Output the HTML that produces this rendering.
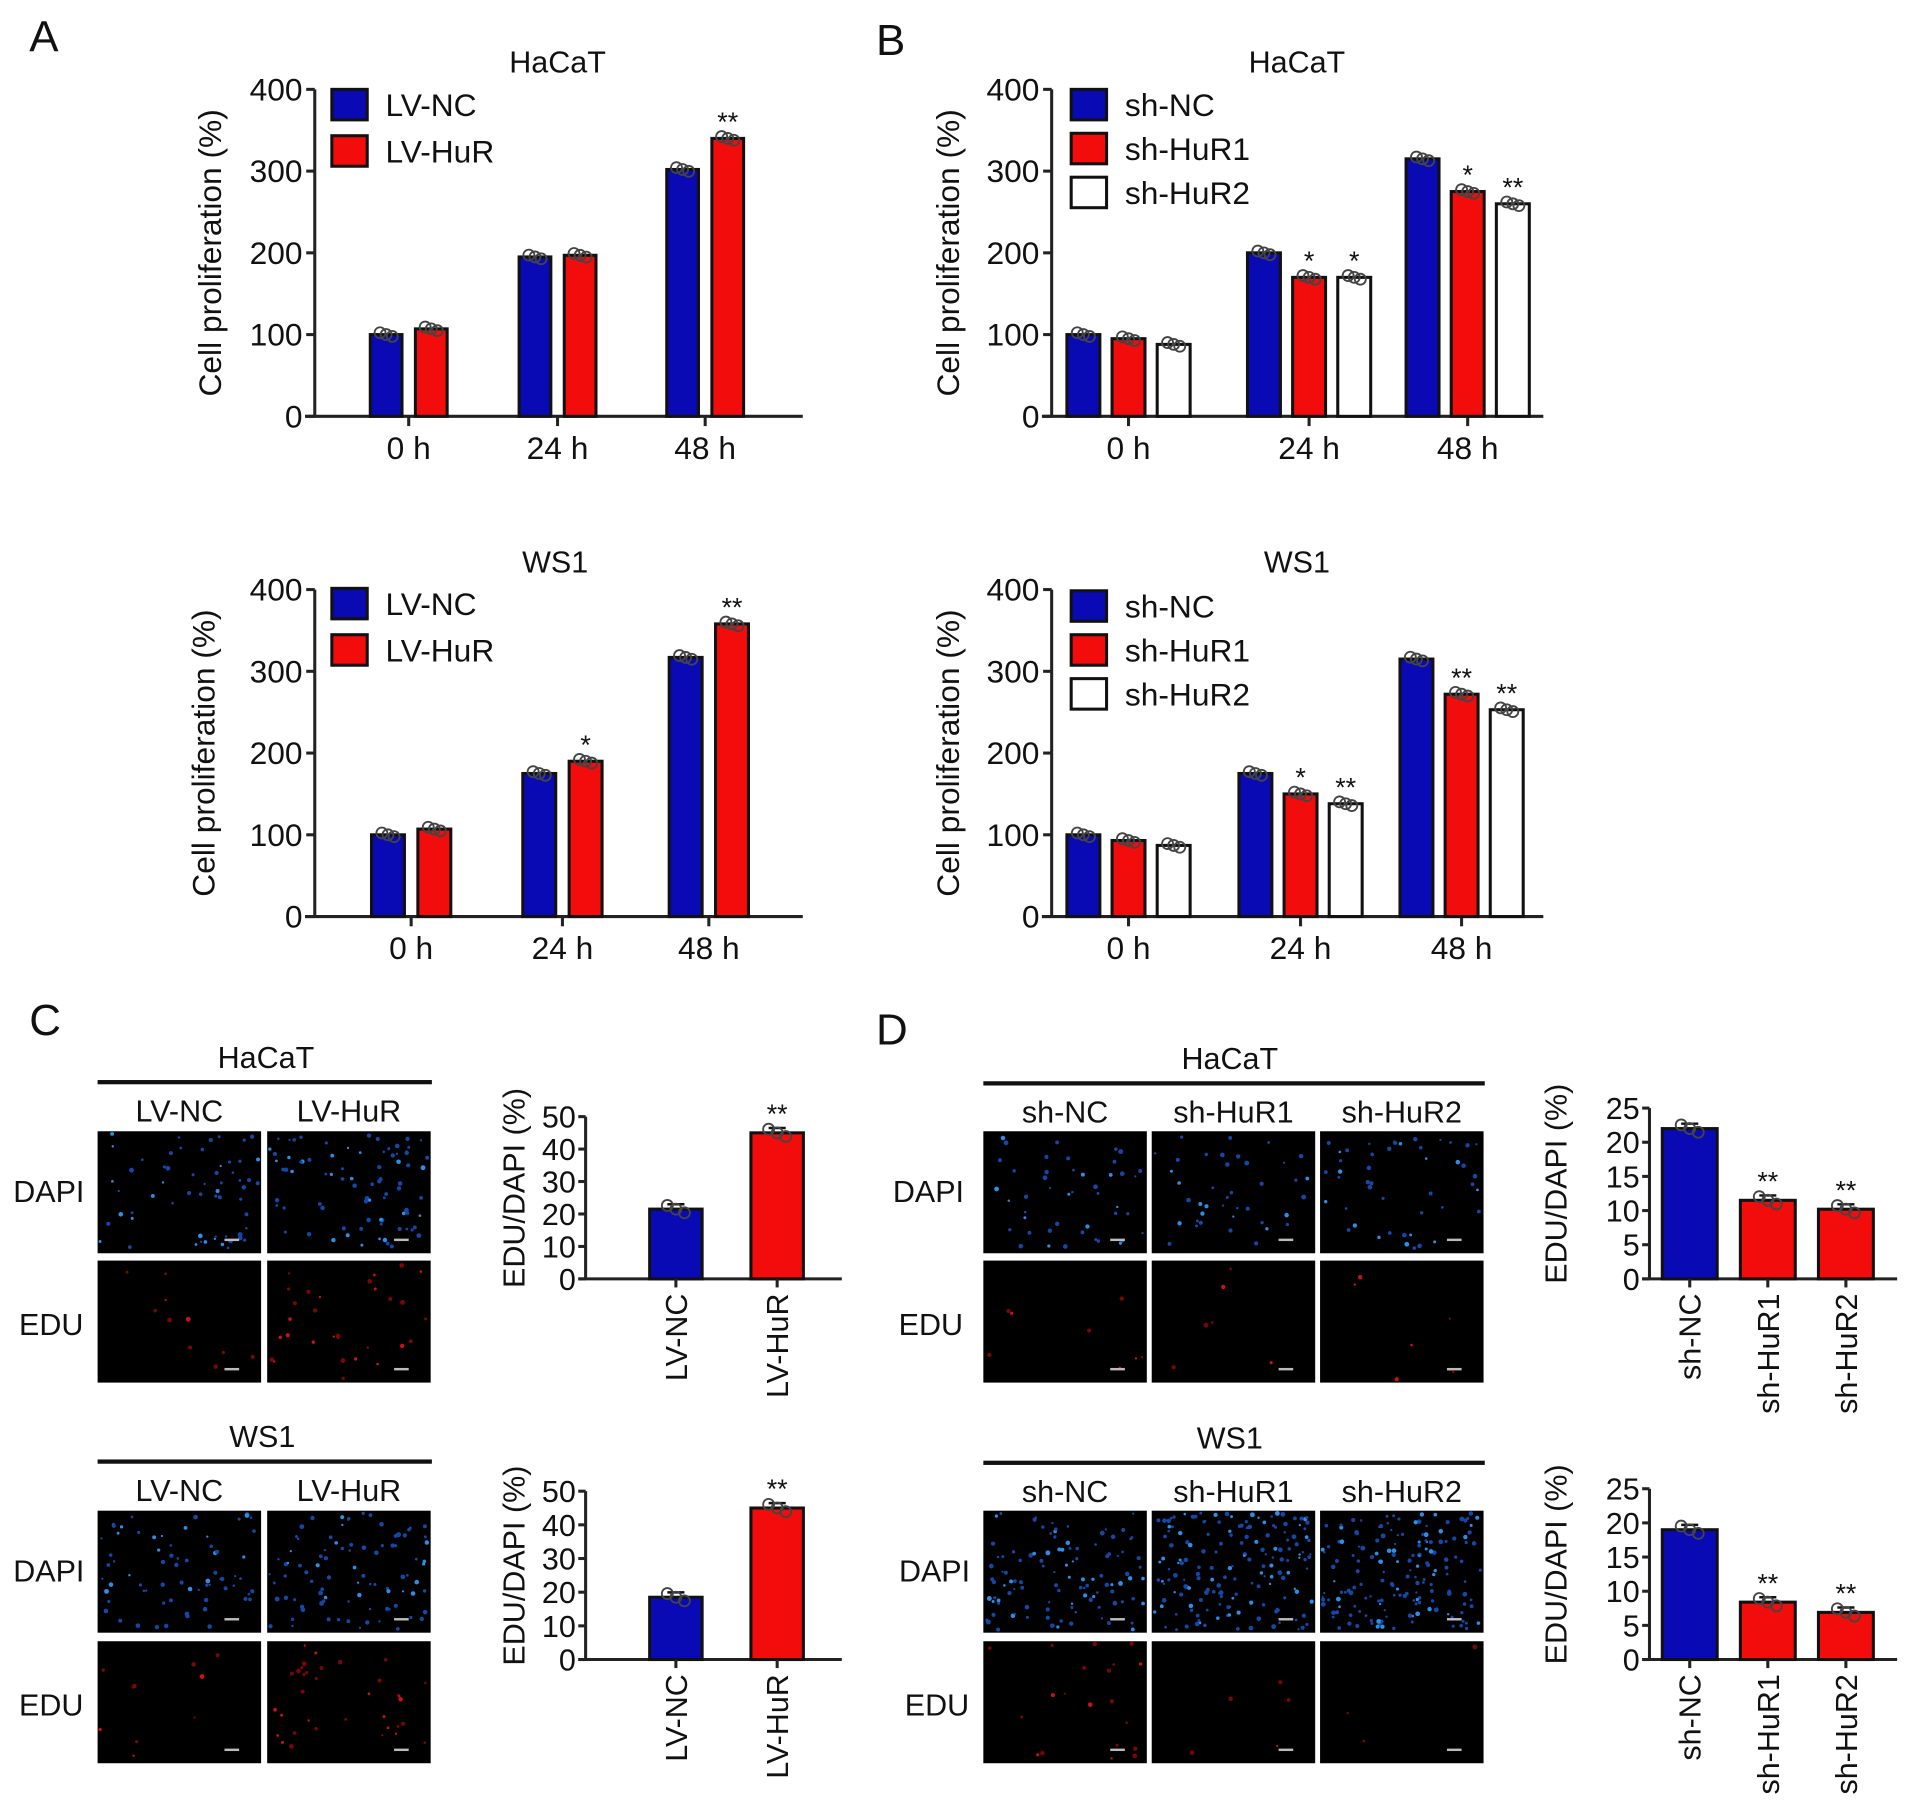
<!DOCTYPE html>
<html><head><meta charset="utf-8"><style>
html,body{margin:0;padding:0;background:#fff}
svg{display:block}
text{font-family:"Liberation Sans",Arial,sans-serif;fill:#111}
</style></head><body>
<svg id="fig" xmlns="http://www.w3.org/2000/svg" width="1913" height="1816" viewBox="0 0 1568 1488">
<g id="root"></g>
</svg>
<script>
// ---- data ----
const groupsTime = ["0 h","24 h","48 h"];
const yTicks400 = [0,100,200,300,400];
const aHacatNC = [100,195,302];
const aHacatHuR = [107,197,340];
const aHacatStars = [["",""],["",""],["","**"]];
const aWs1NC = [100,175,317];
const aWs1HuR = [107,190,358];
const aWs1Stars = [["",""],["","*"],["","**"]];
const bHacatNC = [100,200,315];
const bHacatR1 = [95,170,275];
const bHacatR2 = [88,170,260];
const bHacatStars = [["","",""],["","*","*"],["","*","**"]];
const bWs1NC = [100,175,315];
const bWs1R1 = [93,150,272];
const bWs1R2 = [87,138,253];
const bWs1Stars = [["","",""],["","*","**"],["","**","**"]];
const cCats = ["LV-NC","LV-HuR"];
const cTicks = [0,10,20,30,40,50];
const cHacatVals = [21.5,45];
const cWs1Vals = [18.5,45];
const cStars = ["","**"];
const dCats = ["sh-NC","sh-HuR1","sh-HuR2"];
const dTicks = [0,5,10,15,20,25];
const dHacatVals = [22,11.5,10.2];
const dWs1Vals = [19,8.4,6.9];
const dStars = ["","**","**"];

const NS="http://www.w3.org/2000/svg";
const root=document.getElementById('root');
function el(tag,attrs,parent,txt){const e=document.createElementNS(NS,tag);for(const k in attrs)e.setAttribute(k,attrs[k]);if(txt!==undefined)e.textContent=txt;(parent||root).appendChild(e);return e;}
const COLORS=["#0a0ab4","#f20c0c","#ffffff"];

function groupedChart(o){
  const g=el('g',{});
  
  
  const y=v=>o.y0-(v/400)*(o.y0-o.y400);
  const ax=el('g',{},g);
  
  
  el('line',{x1:o.ax,y1:o.y400,x2:o.ax,y2:o.y0,stroke:'#222','stroke-width':2.5},ax);
  yTicks400.forEach(t=>{
    el('line',{x1:o.ax-7,y1:y(t),x2:o.ax,y2:y(t),stroke:'#222','stroke-width':2.5},ax);
    const tl=el('text',{x:o.ax-10,y:y(t)+9,'text-anchor':'end','font-size':26},ax,t);
    
    
  });
  el('line',{x1:o.ax-8,y1:o.y0,x2:o.axEnd,y2:o.y0,stroke:'#222','stroke-width':2.5},g);
  const yl=el('text',{transform:`translate(${o.ylx},${(o.y0+o.y400)/2}) rotate(-90)`,'text-anchor':'middle','font-size':26},g,'Cell proliferation (%)');
  
  
  const ti=el('text',{x:o.titleX,y:o.titleY,'text-anchor':'middle','font-size':25},g,o.title);
  
  
  const n=o.series.length;
  groupsTime.forEach((c,i)=>{
    const cx=o.centers[i];
    el('line',{x1:cx,y1:o.y0,x2:cx,y2:o.y0+8,stroke:'#222','stroke-width':2.5},g);
    const xl=el('text',{x:cx,y:o.y0+35,'text-anchor':'middle','font-size':26},g,c);
    
    
    o.series.forEach((s,j)=>{
      const x=cx-(n*o.bw+(n-1)*o.gap)/2+j*(o.bw+o.gap);
      const v=s[i];
      const r=el('rect',{x:x,y:y(v),width:o.bw,height:o.y0-y(v),fill:COLORS[j],stroke:'#111','stroke-width':2.5},g);
      
      
      [-5,0,5].forEach((dx,k)=>el('circle',{cx:x+o.bw/2+dx,cy:y(v)+(k-1)*1.5,r:4.5,fill:'none',stroke:'#444','stroke-width':1.5},g));
      const st=o.stars[i][j];
      if(st){const sl=el('text',{x:x+o.bw/2,y:y(v)-6,'text-anchor':'middle','font-size':22},g,st);
        
        }
    });
  });
  o.legend.forEach((name,j)=>{
    const ly=o.legY+j*o.legDy;
    const lg=el('g',{},g);
    
    
    el('rect',{x:o.legX,y:ly,width:29,height:25,fill:COLORS[j],stroke:'#111','stroke-width':2.5},lg);
    el('text',{x:o.legX+44,y:ly+22,'font-size':26},lg,name);
  });
}

groupedChart({name:'chart-a-hacat',ax:258,axEnd:658,y0:341,y400:73,ylx:181,title:'HaCaT',titleX:457,titleY:59,
  centers:[335,457,578],bw:26,gap:11,series:[aHacatNC,aHacatHuR],stars:aHacatStars,legend:['LV-NC','LV-HuR'],legX:272,legY:73,legDy:38});
groupedChart({name:'chart-a-ws1',ax:258,axEnd:658,y0:751,y400:483,ylx:176,title:'WS1',titleX:455,titleY:469,
  centers:[337,461,581],bw:27,gap:11,series:[aWs1NC,aWs1HuR],stars:aWs1Stars,legend:['LV-NC','LV-HuR'],legX:272,legY:482,legDy:38});
groupedChart({name:'chart-b-hacat',ax:862,axEnd:1265,y0:341,y400:73,ylx:786,title:'HaCaT',titleX:1063,titleY:59,
  centers:[925,1073,1203],bw:27,gap:10,series:[bHacatNC,bHacatR1,bHacatR2],stars:bHacatStars,legend:['sh-NC','sh-HuR1','sh-HuR2'],legX:878,legY:73,legDy:36});
groupedChart({name:'chart-b-ws1',ax:862,axEnd:1265,y0:751,y400:483,ylx:786,title:'WS1',titleX:1063,titleY:469,
  centers:[925,1066,1198],bw:27,gap:10,series:[bWs1NC,bWs1R1,bWs1R2],stars:bWs1Stars,legend:['sh-NC','sh-HuR1','sh-HuR2'],legX:878,legY:484,legDy:36});

function edu(o){
  const g=el('g',{});
  
  
  const max=o.ticks[o.ticks.length-1];
  const y=v=>o.y0-(v/max)*(o.y0-o.ytop);
  el('line',{x1:o.ax,y1:o.ytop,x2:o.ax,y2:o.y0,stroke:'#222','stroke-width':2.5},g);
  el('line',{x1:o.ax-6,y1:o.y0,x2:o.axEnd,y2:o.y0,stroke:'#222','stroke-width':2.5},g);
  o.ticks.forEach(t=>{
    el('line',{x1:o.ax-6,y1:y(t),x2:o.ax,y2:y(t),stroke:'#222','stroke-width':2.5},g);
    const tl=el('text',{x:o.ax-8,y:y(t)+9,'text-anchor':'end','font-size':25},g,t);
    
    
  });
  const yl=el('text',{transform:`translate(${o.ylx},${(o.y0+o.ytop)/2-8}) rotate(-90)`,'text-anchor':'middle','font-size':25},g,'EDU/DAPI (%)');
  
  
  o.cats.forEach((c,i)=>{
    const cx=o.centers[i];const v=o.vals[i];
    const r=el('rect',{x:cx-o.bw/2,y:y(v),width:o.bw,height:o.y0-y(v),fill:i===0?COLORS[0]:COLORS[1],stroke:'#111','stroke-width':2.5},g);
    
    
    el('line',{x1:cx-7,y1:y(v)-4,x2:cx+7,y2:y(v)-4,stroke:'#111','stroke-width':2},g);
    [-7,0,7].forEach((dx,k)=>el('circle',{cx:cx+dx,cy:y(v)+(k-1)*3,r:4.5,fill:'none',stroke:'#444','stroke-width':1.5},g));
    el('line',{x1:cx,y1:o.y0,x2:cx,y2:o.y0+7,stroke:'#222','stroke-width':2.5},g);
    const xl=el('text',{transform:`translate(${cx+9},${o.y0+12}) rotate(-90)`,'text-anchor':'end','font-size':25},g,c);
    
    
    if(o.stars[i]){const s=el('text',{x:cx,y:y(v)-8,'text-anchor':'middle','font-size':22},g,o.stars[i]);
      
      }
  });
}
edu({name:'chart-c-hacat',ax:480,axEnd:690,y0:1048,ytop:915,ylx:430,ticks:cTicks,cats:cCats,vals:cHacatVals,stars:cStars,centers:[554,637],bw:43});
edu({name:'chart-c-ws1',ax:480,axEnd:690,y0:1360,ytop:1222,ylx:430,ticks:cTicks,cats:cCats,vals:cWs1Vals,stars:cStars,centers:[554,637],bw:43});
edu({name:'chart-d-hacat',ax:1352,axEnd:1555,y0:1048,ytop:908,ylx:1284,ticks:dTicks,cats:dCats,vals:dHacatVals,stars:dStars,centers:[1385,1449,1513],bw:45});
edu({name:'chart-d-ws1',ax:1352,axEnd:1555,y0:1360,ytop:1220,ylx:1284,ticks:dTicks,cats:dCats,vals:dWs1Vals,stars:dStars,centers:[1385,1449,1513],bw:45});

// ---- micrographs ----
let seed=7;function rnd(){seed=(seed*16807)%2147483647;return seed/2147483647;}
function micro(x,y,w,h,type,n){
  const g=el('g',{});
  
  
  el('rect',{x:x,y:y,width:w,height:h,fill:'#000'},g);
  for(let i=0;i<n;i++){
    const px=x+2+rnd()*(w-4),py=y+2+rnd()*(h-4);
    el('circle',{cx:px,cy:py,r:0.9+rnd()*1.1,fill:type==='dapi'?(rnd()<0.25?'#2c8ee8':'#1448a8'):(rnd()<0.4?'#d01010':'#7a0606')},g);
  }
  el('rect',{x:x+w-30,y:y+h-12,width:12,height:2,fill:'#bbb'},g);
}
function panel(o){
  const t=el('text',{x:o.tx,y:o.ty,'text-anchor':'middle','font-size':25},root,o.title);
  
  
  el('rect',{x:o.lx1,y:o.ty+10,width:o.lx2-o.lx1,height:3.5,fill:'#111'});
  o.cols.forEach((c,i)=>{
    const cl=el('text',{x:o.xs[i]+o.w/2,y:o.ty+44,'text-anchor':'middle','font-size':25},root,c);
    
    
    micro(o.xs[i],o.r1,o.w,100,'dapi',o.nd[i]);
    micro(o.xs[i],o.r2,o.w,100,'edu',o.ne[i]);
  });
  const a=el('text',{x:o.rlx,y:o.r1+58,'text-anchor':'middle','font-size':25},root,'DAPI');
  
  
  const b=el('text',{x:o.rlx+2,y:o.r2+61,'text-anchor':'middle','font-size':25},root,'EDU');
  
  
}
panel({title:'HaCaT',tx:218,ty:875,lx1:80,lx2:354,cols:['LV-NC','LV-HuR'],xs:[80,219],w:134,r1:927,r2:1033,nd:[60,80],ne:[10,30],rlx:40});
panel({title:'WS1',tx:215,ty:1186,lx1:80,lx2:354,cols:['LV-NC','LV-HuR'],xs:[80,219],w:134,r1:1238,r2:1345,nd:[70,90],ne:[10,35],rlx:40});
panel({title:'HaCaT',tx:1008,ty:876,lx1:806,lx2:1217,cols:['sh-NC','sh-HuR1','sh-HuR2'],xs:[806,944,1082],w:134,r1:927,r2:1033,nd:[45,40,45],ne:[8,6,7],rlx:761});
panel({title:'WS1',tx:1008,ty:1187,lx1:806,lx2:1217,cols:['sh-NC','sh-HuR1','sh-HuR2'],xs:[806,944,1082],w:134,r1:1238,r2:1345,nd:[110,170,170],ne:[20,5,3],rlx:766});

// ---- panel letters ----
[['A',24,42],['B',718,45],['C',24,848],['D',718,856]].forEach(p=>{
  const t=el('text',{x:p[1],y:p[2],'font-size':36},root,p[0]);
  
  
});
</script>
</body></html>
